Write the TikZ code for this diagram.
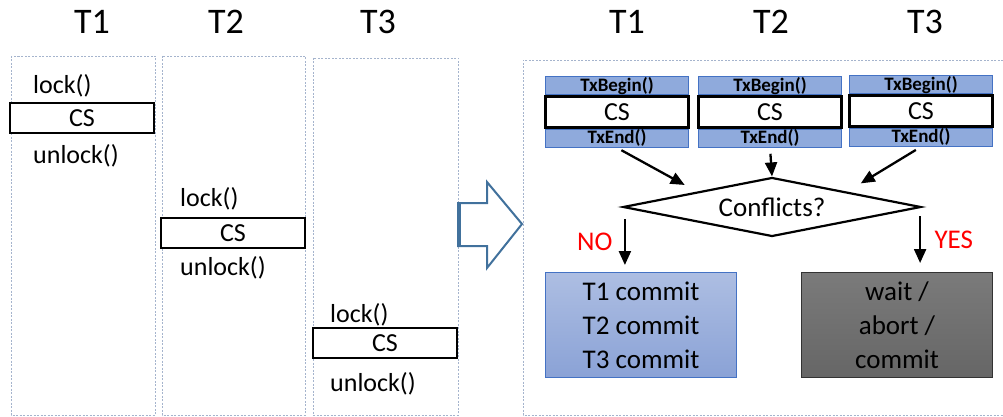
\documentclass[tikz,border=0pt]{standalone}
\usepackage{fontspec}
\setmainfont{Carlito}
\usetikzlibrary{positioning,shapes.geometric,arrows.meta}

\definecolor{lanecol}{RGB}{165,180,205}
\definecolor{txfill}{RGB}{143,170,220}
\definecolor{txline}{RGB}{68,114,196}
\definecolor{arrowcol}{RGB}{65,113,156}
\definecolor{okfill}{RGB}{138,162,214}

\tikzset{
  lane/.style={draw=lanecol, line width=0.8pt, dash pattern=on 2pt off 1.5pt},
  title/.style={font=\fontsize{36}{40}\selectfont},
  call/.style={anchor=west, inner sep=0pt, font=\fontsize{26}{30}\selectfont},
  csbox/.style={draw, line width=2.6pt, fill=white, inner sep=0pt,
    minimum width=144pt, minimum height=30pt, font=\fontsize{26}{30}\selectfont},
  txband/.style={draw=txline, fill=txfill, line width=1pt, inner sep=0pt,
    minimum width=143pt, minimum height=18pt, font=\bfseries\fontsize{19}{19}\selectfont},
  flow/.style={-{Triangle[length=14pt,width=12pt]}, line width=2.3pt},
  answer/.style={text=red, font=\fontsize{27}{30}\selectfont},
  outcome/.style={align=center, inner sep=0pt, minimum width=191pt, minimum height=105pt,
    font=\fontsize{27}{34}\selectfont},
}

\begin{document}
\begin{tikzpicture}[x=1pt,y=-1pt]
  \useasboundingbox (0,0) rectangle (1003,417);
  % lock based threads
  \draw[lane] (11,56) rectangle (155,415);
  \draw[lane] (162,56) rectangle (305,415);
  \draw[lane] (313,58) rectangle (458,415);
  \node[title] (t1) at (92,22) {T1};
  \node[title] (t2) at (226,22) {T2};
  \node[title] (t3) at (378,22) {T3};
  %
  \node[call] (lock1) at (33,86) {lock()};
  \node[csbox] (cs1) at (82,118) {CS};
  \node[call] (unlock1) at (33,156) {unlock()};
  \node[call] (lock2) at (180,199) {lock()};
  \node[csbox] (cs2) at (233,233) {CS};
  \node[call] (unlock2) at (180,268) {unlock()};
  \node[call] (lock3) at (330,315) {lock()};
  \node[csbox] (cs3) at (385,343) {CS};
  \node[call] (unlock3) at (330,384) {unlock()};
  % block arrow
  \draw[arrowcol, line width=2pt, line join=miter]
    (458,203) -- (487,203) -- (487,182) -- (522,224) -- (487,268) -- (487,246) -- (458,246) -- cycle;
  \draw[arrowcol, line width=3.4pt] (459,203) -- (459,246);
  % transactional threads
  \draw[lane] (1003,60) -- (523,60) -- (523,415) -- (1003,415);
  \node[title] (u1) at (627,22) {T1};
  \node[title] (u2) at (771,22) {T2};
  \node[title] (u3) at (925,22) {T3};
  %
  \node[csbox, minimum width=143pt, minimum height=31pt] (tcs1) at (617,112) {CS};
  \node[txband, above=0pt of tcs1] (tb1) {TxBegin()};
  \node[txband, below=0pt of tcs1] (te1) {TxEnd()};
  \node[csbox, minimum width=143pt, minimum height=31pt] (tcs2) at (770,112) {CS};
  \node[txband, above=0pt of tcs2] (tb2) {TxBegin()};
  \node[txband, below=0pt of tcs2] (te2) {TxEnd()};
  \node[csbox, minimum width=143pt, minimum height=31pt] (tcs3) at (921,111) {CS};
  \node[txband, above=0pt of tcs3] (tb3) {TxBegin()};
  \node[txband, below=0pt of tcs3] (te3) {TxEnd()};
  %
  \node[diamond, draw, line width=2.2pt, fill=white, inner sep=0pt, aspect=5,
    minimum width=298pt, minimum height=59pt, font=\fontsize{27}{30}\selectfont] (conf) at (772,207) {Conflicts?};
  \draw[flow, shorten <=5pt, shorten >=14pt] (te1.south) -- (conf.north west);
  \draw[flow, shorten <=6pt] (te2.south) -- (conf.north);
  \draw[flow, shorten <=6pt, shorten >=16pt] (te3.south) -- (conf.north east);
  %
  \node[outcome, draw=txline, line width=1pt, top color=okfill!70!white, bottom color=okfill]
    (commit) at (641,325) {T1 commit\\T2 commit\\T3 commit};
  \node[outcome, draw=black!80, line width=1pt, top color=black!52, bottom color=black!60]
    (retry) at (897,325) {wait /\\abort /\\commit};
  \draw[flow] ([shift={(3pt,-12pt)}]conf.west) -- ([shift={(3pt,7pt)}]conf.west |- commit.north)
    node[midway, left=8pt, answer] {NO};
  \draw[flow] ([shift={(-2pt,-9pt)}]conf.east) -- ([shift={(-2pt,9pt)}]conf.east |- retry.north)
    node[midway, right=10pt, answer] {YES};
\end{tikzpicture}
\end{document}
